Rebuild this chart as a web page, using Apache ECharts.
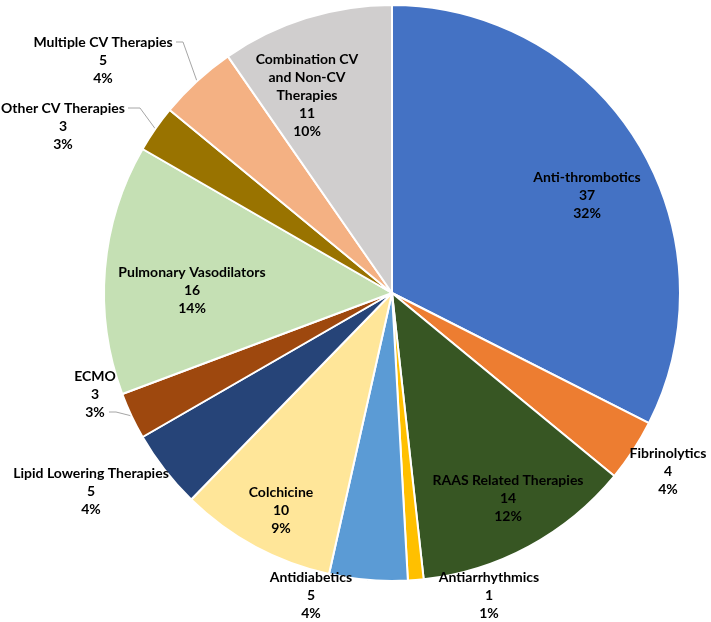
<!DOCTYPE html>
<html>
<head>
<meta charset="utf-8">
<script src="https://cdn.jsdelivr.net/npm/echarts@6/dist/echarts.min.js"></script>
<style>
html,body{margin:0;padding:0;background:#fff;}
#chart{width:711px;height:622px;}
</style>
</head>
<body>
<div id="chart"></div>
<script>
// Data
var categories = [
  'Anti-thrombotics', 'Fibrinolytics', 'RAAS Related Therapies', 'Antiarrhythmics',
  'Antidiabetics', 'Colchicine', 'Lipid Lowering Therapies', 'ECMO',
  'Pulmonary Vasodilators', 'Other CV Therapies', 'Multiple CV Therapies',
  'Combination CV and Non-CV Therapies'
];
var counts = [37, 4, 14, 1, 5, 10, 5, 3, 16, 3, 5, 11];

// Styles
var colors = ['#4472C4', '#ED7D31', '#375623', '#FFC000', '#5B9BD5', '#FFE699',
              '#264478', '#9E480E', '#C5E0B4', '#997300', '#F4B183', '#D0CECE'];
// label display names (line breaks)
var displayNames = {
  'Combination CV and Non-CV Therapies': 'Combination CV\nand Non-CV\nTherapies'
};
// label centers (x, y of middle of text block)
var labelPos = [
  [587, 195], [668, 471], [508, 498], [489, 595],
  [311, 595], [281, 510], [91, 491], [95, 394],
  [192, 290], [63, 126], [103, 60], [307, 95]
];
// leader lines: index -> {dx: end offset from label center, line: text line index, bend: extra offset}
var leaders = {
  3: {dx: -54, line: 0, bend: -5},
  4: {dx: 40, line: 0, bend: 8},
  7: {dx: 14, line: 2, bend: 7},
  9: {dx: 65, line: 0, bend: 12},
  10: {dx: 73, line: 0, bend: 7}
};
var LINE_H = 18;

var data = categories.map(function (c, i) {
  var hasLeader = leaders[i] !== undefined;
  return {
    name: c,
    value: counts[i],
    itemStyle: {color: colors[i]},
    label: {position: hasLeader ? 'outside' : 'inside'},
    labelLine: {show: hasLeader}
  };
});

var chart = echarts.init(document.getElementById('chart'));
chart.setOption({
  animation: false,
  backgroundColor: '#ffffff',
  series: [{
    type: 'pie',
    center: [392, 293],
    radius: 288,
    startAngle: 90,
    clockwise: true,
    percentPrecision: 0,
    avoidLabelOverlap: false,
    data: data,
    itemStyle: {borderColor: '#ffffff', borderWidth: 2},
    label: {
      show: true,
      color: '#000000',
      fontFamily: 'Lato',
      fontWeight: 'bold',
      fontSize: 14,
      lineHeight: LINE_H,
      align: 'center',
      formatter: function (p) {
        var n = displayNames[p.name] || p.name;
        return n + '\n' + p.value + '\n' + p.percent + '%';
      }
    },
    labelLine: {
      show: true,
      length: 10,
      length2: 10,
      smooth: false,
      lineStyle: {color: '#A6A6A6', width: 1}
    },
    labelLayout: function (p) {
      var i = p.dataIndex;
      var pos = labelPos[i];
      var res = {x: pos[0], y: pos[1], align: 'center', verticalAlign: 'middle'};
      var L = leaders[i];
      if (L && p.labelLinePoints && p.labelLinePoints.length) {
        var start = p.labelLinePoints[0];
        var nLines = 3;
        var ly = pos[1] - (nLines - 1) * LINE_H / 2 + L.line * LINE_H;
        var ex = pos[0] + L.dx;
        res.labelLinePoints = [
          [start[0], start[1]],
          [ex + L.bend, ly],
          [ex, ly]
        ];
      }
      return res;
    }
  }]
});
</script>
</body>
</html>
